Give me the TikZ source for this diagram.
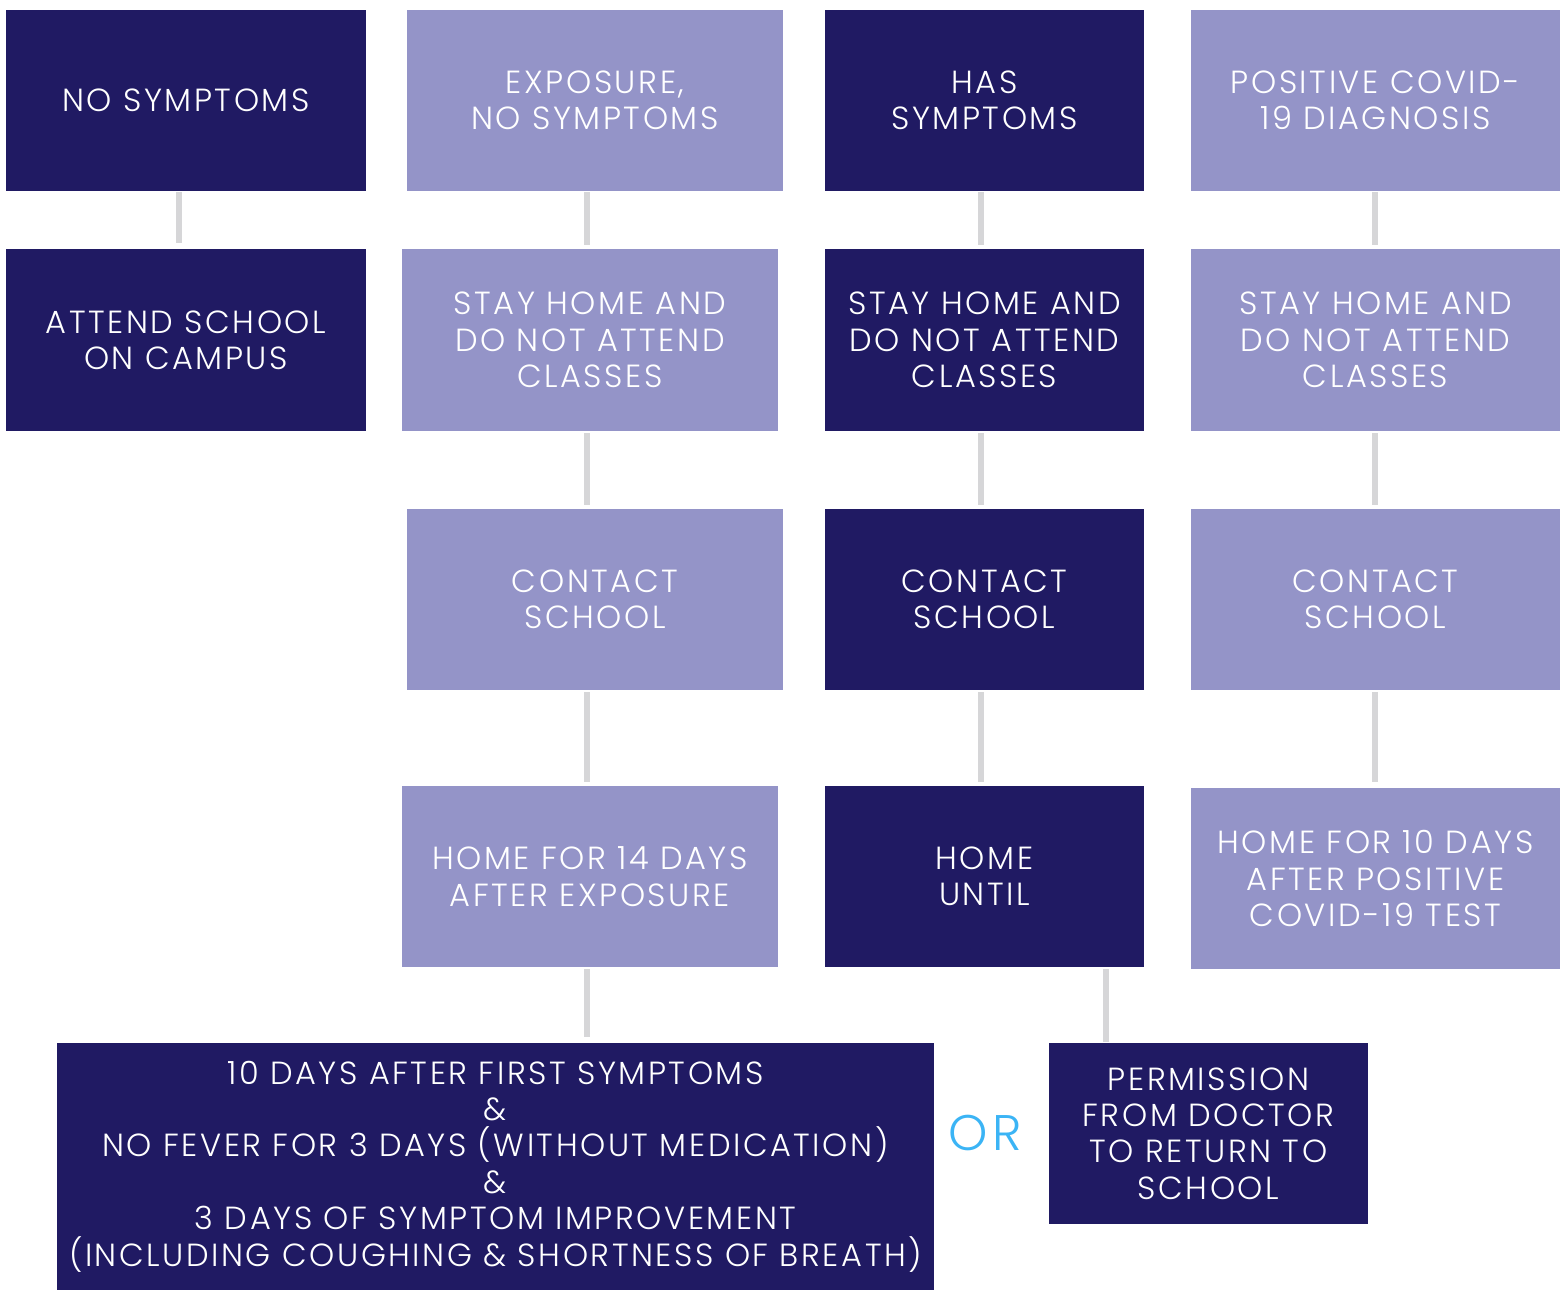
\documentclass[tikz,border=0pt]{standalone}
\usepackage{fontspec}
\setmainfont{Poppins}[UprightFont={* Light},LetterSpace=8]
\definecolor{navy}{HTML}{201A63}
\definecolor{lilac}{HTML}{9494C8}
\definecolor{linkgray}{HTML}{D6D6D8}
\definecolor{orblue}{HTML}{3BB4F5}
\tikzset{
	box/.style={inner sep=0pt,align=center,text=white,
		font=\fontsize{32}{36.4}\selectfont},
	dark/.style={box,fill=navy},
	light/.style={box,fill=lilac},
	link/.style={draw=linkgray,line width=6pt}
}
\begin{document}
\begin{tikzpicture}[x=1pt,y=-1pt]
	\useasboundingbox (0,0) rectangle (1560,1290);
	%Hang 1
	\node[dark,minimum width=360pt,minimum height=181pt] (nosym) at (186,100.5) {NO SYMPTOMS};
	\node[light,minimum width=376pt,minimum height=181pt] (expo) at (595,100.5) {EXPOSURE,\\NO SYMPTOMS};
	\node[dark,minimum width=319pt,minimum height=181pt] (hassym) at (984.5,100.5) {HAS\\SYMPTOMS};
	\node[light,minimum width=369pt,minimum height=181pt] (posit) at (1375.5,100.5) {POSITIVE COVID-\\19 DIAGNOSIS};
	%Hang 2
	\node[dark,minimum width=360pt,minimum height=182pt] (attend) at (186,340) {ATTEND SCHOOL\\ON CAMPUS};
	\node[light,minimum width=376pt,minimum height=182pt] (stayA) at (590,340) {STAY HOME AND\\DO NOT ATTEND\\CLASSES};
	\node[dark,minimum width=319pt,minimum height=182pt] (stayB) at (984.5,340) {STAY HOME AND\\DO NOT ATTEND\\CLASSES};
	\node[light,minimum width=369pt,minimum height=182pt] (stayC) at (1375.5,340) {STAY HOME AND\\DO NOT ATTEND\\CLASSES};
	%Hang 3
	\node[light,minimum width=376pt,minimum height=181pt] (contA) at (595,599.5) {CONTACT\\SCHOOL};
	\node[dark,minimum width=319pt,minimum height=181pt] (contB) at (984.5,599.5) {CONTACT\\SCHOOL};
	\node[light,minimum width=369pt,minimum height=181pt] (contC) at (1375.5,599.5) {CONTACT\\SCHOOL};
	%Hang 4
	\node[light,minimum width=376pt,minimum height=181pt] (homeA) at (590,876.5) {HOME FOR 14 DAYS\\AFTER EXPOSURE};
	\node[dark,minimum width=319pt,minimum height=181pt] (homeB) at (984.5,876.5) {HOME\\UNTIL};
	\node[light,minimum width=369pt,minimum height=181pt] (homeC) at (1375.5,878.5) {HOME FOR 10 DAYS\\AFTER POSITIVE\\COVID-19 TEST};
	%Hang 5
	\node[dark,minimum width=877pt,minimum height=247pt] (tendays) at (495.5,1166.5) {10 DAYS AFTER FIRST SYMPTOMS\\\&\\NO FEVER FOR 3 DAYS (WITHOUT MEDICATION)\\\&\\3 DAYS OF SYMPTOM IMPROVEMENT\\(INCLUDING COUGHING \& SHORTNESS OF BREATH)};
	\node[dark,minimum width=319pt,minimum height=181pt] (permit) at (1208.5,1133.5) {PERMISSION\\FROM DOCTOR\\TO RETURN TO\\SCHOOL};
	\node[text=orblue,font=\fontsize{50}{54}\selectfont,inner sep=0pt] (or) at (985,1133) {OR};
	%Duong noi
	\draw[link] ([xshift=-7pt,yshift=-1pt]nosym.south) -- ([xshift=-7pt,yshift=6pt]nosym.south |- attend.north);
	\draw[link] ([xshift=-8pt,yshift=-1pt]expo.south) -- ([xshift=-8pt,yshift=4pt]expo.south |- stayA.north);
	\draw[link] ([xshift=-3pt,yshift=-2pt]stayA.south) -- ([xshift=-3pt,yshift=4pt]stayA.south |- contA.north);
	\draw[link] ([xshift=-8pt,yshift=-2pt]contA.south) -- ([xshift=-8pt,yshift=4pt]contA.south |- homeA.north);
	\draw[link] ([xshift=-3pt,yshift=-2pt]homeA.south) -- ([xshift=-3pt,yshift=6pt]homeA.south |- tendays.north);
	\draw[link] ([xshift=-3.5pt,yshift=-1pt]hassym.south) -- ([xshift=-3.5pt,yshift=4pt]hassym.south |- stayB.north);
	\draw[link] ([xshift=-3.5pt,yshift=-2pt]stayB.south) -- ([xshift=-3.5pt,yshift=4pt]stayB.south |- contB.north);
	\draw[link] ([xshift=-3.5pt,yshift=-2pt]contB.south) -- ([xshift=-3.5pt,yshift=4pt]contB.south |- homeB.north);
	\draw[link] ([xshift=121.5pt,yshift=-2pt]homeB.south) -- ([xshift=121.5pt,yshift=1pt]homeB.south |- permit.north);
	\draw[link] ([xshift=-0.5pt,yshift=-1pt]posit.south) -- ([xshift=-0.5pt,yshift=4pt]posit.south |- stayC.north);
	\draw[link] ([xshift=-0.5pt,yshift=-2pt]stayC.south) -- ([xshift=-0.5pt,yshift=4pt]stayC.south |- contC.north);
	\draw[link] ([xshift=-0.5pt,yshift=-2pt]contC.south) -- ([xshift=-0.5pt,yshift=6pt]contC.south |- homeC.north);
\end{tikzpicture}
\end{document}
